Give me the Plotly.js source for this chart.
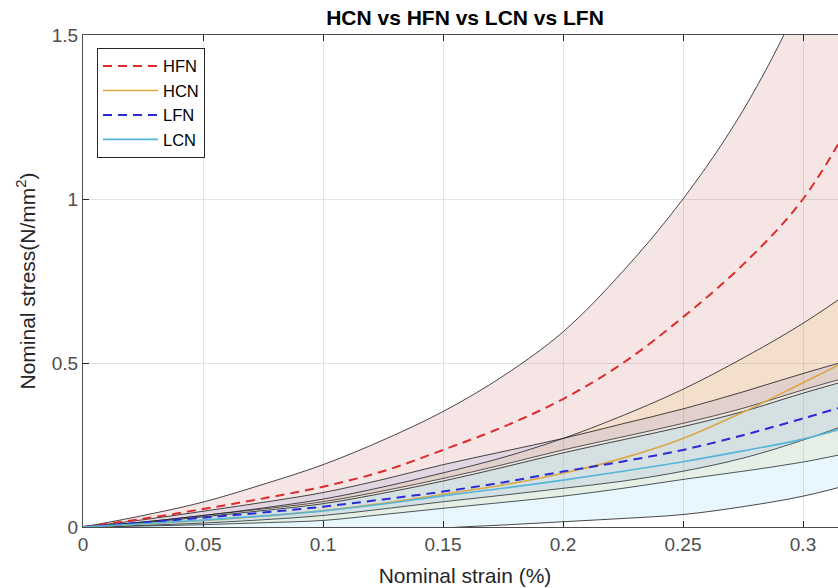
<!DOCTYPE html>
<html>
<head>
<meta charset="utf-8">
<script src="https://cdn.plot.ly/plotly-3.0.1.min.js"></script>
<style>
  html, body { margin: 0; padding: 0; overflow: hidden; background: #fff; }
  #chart { width: 848px; height: 588px; }
</style>
</head>
<body>
<div id="chart"></div>
<script>
// Nominal strain sample points
const strain   = [0, 0.025, 0.05, 0.075, 0.1, 0.125, 0.15, 0.175, 0.2, 0.225, 0.25, 0.275, 0.3, 0.325];

// HFN: mean curve and band limits (N/mm^2)
const hfnMean  = [0, 0.025, 0.055, 0.087, 0.123, 0.17, 0.235, 0.305, 0.39, 0.5, 0.64, 0.8, 1.0, 1.3];
const hfnUpper = [0, 0.035, 0.076, 0.13, 0.19, 0.265, 0.352, 0.46, 0.595, 0.78, 1.0, 1.27, 1.62, 2.05];
const hfnLower = [0, 0.015, 0.035, 0.055, 0.077, 0.11, 0.148, 0.19, 0.235, 0.275, 0.316, 0.362, 0.418, 0.47];

// HCN
const hcnMean  = [0, 0.009, 0.02, 0.033, 0.05, 0.072, 0.1, 0.128, 0.164, 0.21, 0.27, 0.35, 0.44, 0.53];
const hcnUpper = [0, 0.015, 0.035, 0.058, 0.085, 0.122, 0.165, 0.212, 0.27, 0.34, 0.42, 0.515, 0.621, 0.745];
const hcnLower = [0, 0.003, 0.007, 0.013, 0.02, 0.038, 0.057, 0.075, 0.094, 0.118, 0.145, 0.17, 0.198, 0.235];

// LFN
const lfnMean  = [0, 0.013, 0.028, 0.044, 0.062, 0.084, 0.108, 0.136, 0.169, 0.2, 0.235, 0.28, 0.331, 0.385];
const lfnUpper = [0, 0.022, 0.048, 0.075, 0.105, 0.145, 0.19, 0.23, 0.27, 0.315, 0.36, 0.412, 0.468, 0.52];
const lfnLower = [0, 0.005, 0.012, 0.022, 0.035, 0.055, 0.077, 0.097, 0.118, 0.14, 0.17, 0.21, 0.265, 0.33];

// LCN
const lcnMean  = [0, 0.01, 0.021, 0.034, 0.049, 0.07, 0.095, 0.118, 0.143, 0.17, 0.199, 0.232, 0.268, 0.318];
const lcnUpper = [0, 0.013, 0.031, 0.05, 0.071, 0.103, 0.14, 0.182, 0.226, 0.266, 0.306, 0.352, 0.408, 0.46];
const lcnLower = [0, -0.012, -0.025, -0.033, -0.035, -0.028, -0.004, 0.006, 0.016, 0.026, 0.038, 0.062, 0.094, 0.14];

const xTicks = [0, 0.05, 0.1, 0.15, 0.2, 0.25, 0.3];
const yTicks = [0, 0.5, 1, 1.5];

const edge = { color: '#1a1a1a', width: 0.8, shape: 'spline', smoothing: 1 };

function band(lower, upper, fillcolor) {
  return [
    { x: strain, y: lower, mode: 'lines', line: edge, showlegend: false, hoverinfo: 'skip' },
    { x: strain, y: upper, mode: 'lines', line: edge, fill: 'tonexty', fillcolor: fillcolor,
      showlegend: false, hoverinfo: 'skip' }
  ];
}

function meanLine(name, y, color, dash, width) {
  return { x: strain, y: y, name: name, mode: 'lines', hoverinfo: 'skip',
           line: { color: color, dash: dash, width: width, shape: 'spline', smoothing: 1 } };
}

const traces = [].concat(
  band(hfnLower, hfnUpper, 'rgba(165,20,20,0.11)'),
  band(hcnLower, hcnUpper, 'rgba(237,177,32,0.12)'),
  band(lfnLower, lfnUpper, 'rgba(40,70,210,0.09)'),
  band(lcnLower, lcnUpper, 'rgba(77,190,238,0.13)'),
  [
    meanLine('HFN', hfnMean, '#de2c2c', '9px,6px', 2),
    meanLine('HCN', hcnMean, '#d9a845', 'solid', 1.6),
    meanLine('LFN', lfnMean, '#2a2ad8', '9px,6px', 2),
    meanLine('LCN', lcnMean, '#55b5d9', 'solid', 1.6)
  ]
);

const font = 'Liberation Sans, Arial, Helvetica, sans-serif';

const layout = {
  width: 848, height: 588,
  margin: { l: 83, r: 1, t: 35, b: 61 },
  paper_bgcolor: '#ffffff', plot_bgcolor: '#ffffff',
  font: { family: font, color: '#262626', size: 19 },
  title: { text: '<b>HCN vs HFN vs LCN vs LFN</b>', font: { family: font, size: 21, color: '#000' },
           x: 0.5, xref: 'paper', xanchor: 'center', y: 0.97, yref: 'container', yanchor: 'middle' },
  xaxis: {
    range: [0, 0.31833], tickvals: xTicks, ticktext: xTicks.map(String),
    showline: true, linecolor: '#4d4d4d', linewidth: 1, mirror: 'ticks',
    ticks: 'inside', ticklen: 6, tickcolor: '#262626', tickwidth: 1,
    showgrid: true, gridcolor: '#e3e3e3', gridwidth: 1, zeroline: false,
    tickfont: { size: 19, color: '#4d4d4d' },
    title: { text: 'Nominal strain (%)', font: { size: 21, color: '#262626' }, standoff: 14 }
  },
  yaxis: {
    range: [0, 1.5], tickvals: yTicks, ticktext: yTicks.map(String),
    showline: true, linecolor: '#4d4d4d', linewidth: 1, mirror: 'ticks',
    ticks: 'inside', ticklen: 6, tickcolor: '#262626', tickwidth: 1,
    showgrid: true, gridcolor: '#e3e3e3', gridwidth: 1, zeroline: false,
    tickfont: { size: 19, color: '#4d4d4d' },
    title: { text: 'Nominal stress(N/mm<sup>2</sup>)', font: { size: 21, color: '#262626' }, standoff: 10 }
  },
  legend: {
    x: 0.0183, y: 0.974, xanchor: 'left', yanchor: 'top',
    bgcolor: '#ffffff', bordercolor: '#262626', borderwidth: 1,
    font: { size: 16.5, color: '#000' }, traceorder: 'normal',
    itemwidth: 55, tracegroupgap: 0
  },
  showlegend: true
};

Plotly.newPlot('chart', traces, layout, { displayModeBar: false, staticPlot: true });
</script>
</body>
</html>
